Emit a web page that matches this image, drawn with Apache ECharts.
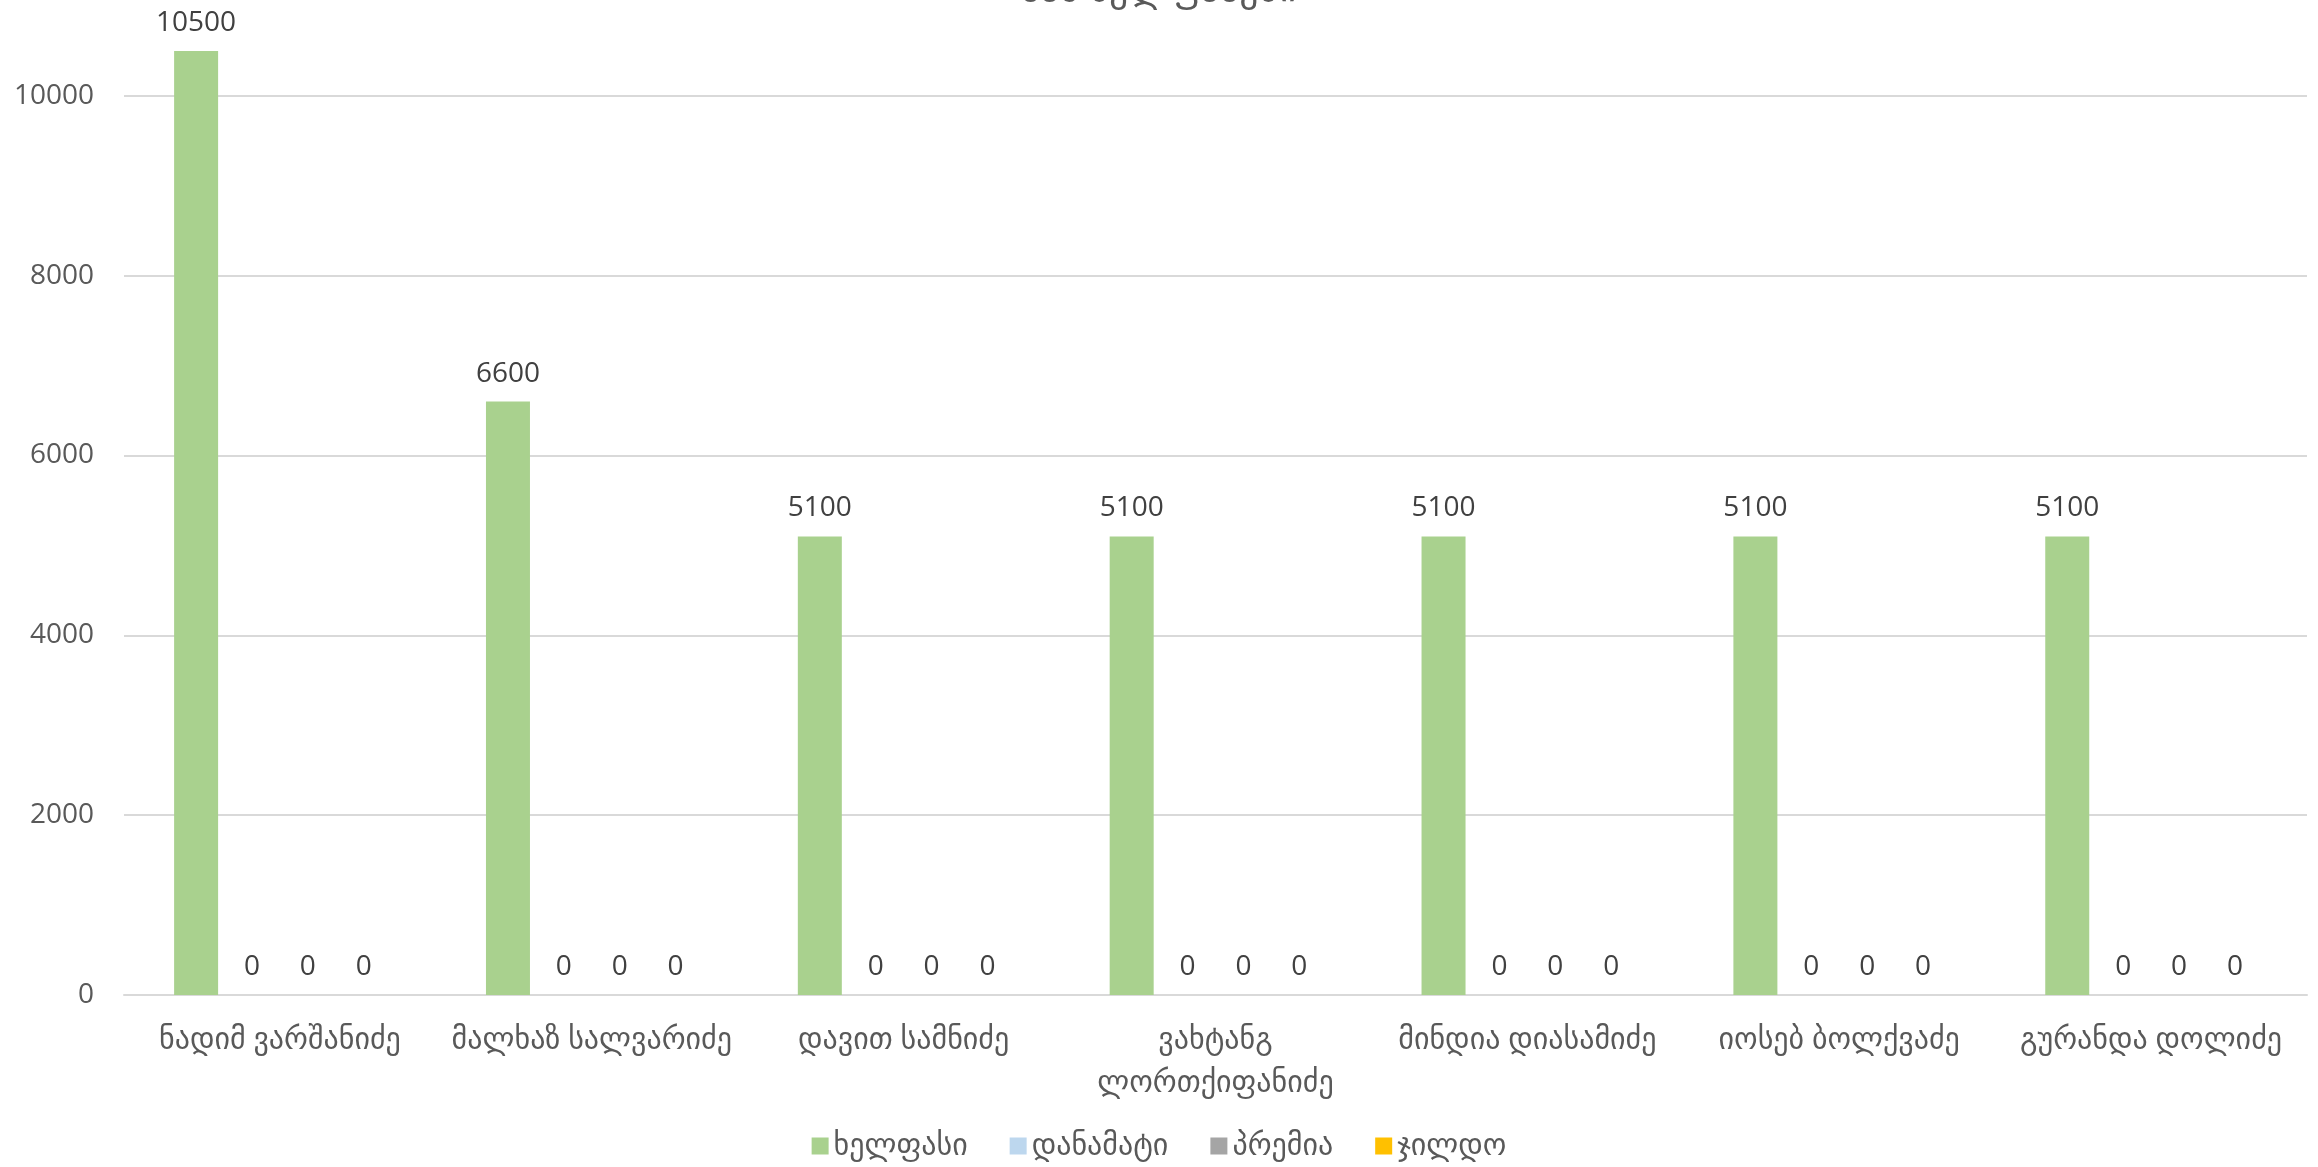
<!DOCTYPE html>
<html>
<head>
<meta charset="utf-8">
<title>chart</title>
<script src="https://cdn.jsdelivr.net/npm/echarts@6/dist/echarts.min.js"></script>
<style>
  html, body { margin: 0; padding: 0; background: #fff; }
  #chart1 { width: 2318px; height: 1167px; }
</style>
</head>
<body>
<div id="chart1"></div>
<script>
var titleText = 'სამ ხელფასები'
var categories = [
  'ნადიმ ვარშანიძე',
  'მალხაზ სალვარიძე',
  'დავით სამნიძე',
  'ვახტანგ\nლორთქიფანიძე',
  'მინდია დიასამიძე',
  'იოსებ ბოლქვაძე',
  'გურანდა დოლიძე'
]
var seriesNames = ['ხელფასი', 'დანამატი', 'პრემია', 'ჯილდო']
var salary = [10500, 6600, 5100, 5100, 5100, 5100, 5100]
var bonus = [0, 0, 0, 0, 0, 0, 0]
var premium = [0, 0, 0, 0, 0, 0, 0]
var award = [0, 0, 0, 0, 0, 0, 0]
var yTicks = { min: 0, max: 12000, interval: 2000 }

var chart1
var fontFam = "'Open Sans', 'DejaVu Sans', sans-serif"

function rendChart1 () {
  if (chart1 != null && chart1 != undefined) {
    chart1.dispose()
  }
  chart1 = echarts.init(document.getElementById('chart1'))
  var label = {
    show: true,
    position: 'top',
    distance: 14,
    color: '#404040',
    fontSize: 28,
    fontFamily: fontFam
  }
  var allData = [salary, bonus, premium, award]
  var series = []
  for (var i = 0; i < seriesNames.length; i++) {
    series.push({
      name: seriesNames[i],
      type: 'bar',
      data: allData[i],
      barWidth: 44,
      barGap: '27%',
      label: label
    })
  }
  var option = {
    animation: false,
    color: ['#a9d18e', '#bdd7ee', '#a5a5a5', '#ffc000'],
    title: {
      text: titleText,
      left: 'center',
      top: -34,
      textStyle: {
        color: '#595959',
        fontSize: 38,
        fontWeight: 'normal',
        fontFamily: fontFam
      }
    },
    legend: {
      data: seriesNames,
      bottom: 1,
      left: 'center',
      icon: 'rect',
      itemWidth: 17,
      itemHeight: 17,
      itemGap: 42,
      textStyle: {
        color: '#595959',
        fontSize: 30,
        fontFamily: fontFam
      }
    },
    grid: {
      left: 124,
      right: 11,
      top: -84,
      bottom: 172,
      containLabel: false,
      outerBoundsMode: 'none'
    },
    xAxis: {
      type: 'category',
      data: categories,
      axisLine: {
        lineStyle: { color: '#d9d9d9', width: 2 }
      },
      axisTick: { show: false },
      axisLabel: {
        color: '#595959',
        fontSize: 30,
        fontFamily: fontFam,
        margin: 24,
        lineHeight: 43,
        interval: 0
      }
    },
    yAxis: {
      type: 'value',
      min: yTicks.min,
      max: yTicks.max,
      interval: yTicks.interval,
      axisLine: { show: false },
      axisTick: { show: false },
      axisLabel: {
        color: '#595959',
        fontSize: 28,
        fontFamily: fontFam,
        margin: 30,
        formatter: function (v) { return String(v) }
      },
      splitLine: {
        lineStyle: { color: '#d9d9d9', width: 2 }
      }
    },
    series: series
  }
  chart1.setOption(option)
}
rendChart1()
</script>
</body>
</html>
